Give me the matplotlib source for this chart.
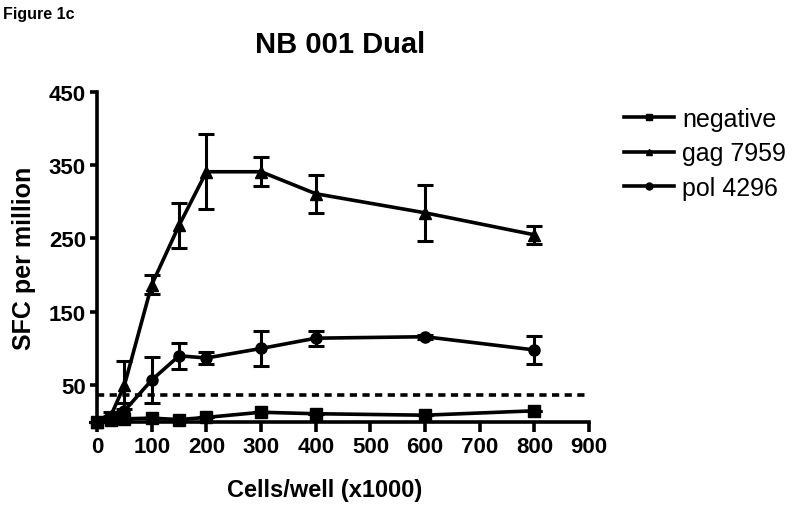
import matplotlib.pyplot as plt
from matplotlib.lines import Line2D

plt.rcParams['font.family'] = ['Liberation Sans', 'DejaVu Sans']
plt.rcParams['font.weight'] = 'bold'

cells = [0, 25, 50, 100, 150, 200, 300, 400, 600, 800]

neg = [0, 2, 4, 5, 3, 6, 13, 11, 9, 15]
neg_err = [0, 0, 0, 0, 0, 0, 0, 0, 0, 0]

gag = [0, 8, 50, 187, 268, 341, 341, 311, 285, 255]
gag_err = [0, 5, 33, 13, 31, 51, 20, 26, 38, 12]

pol = [0, 5, 15, 57, 90, 87, 100, 114, 116, 98]
pol_err = [0, 3, 10, 31, 18, 8, 24, 10, 3, 19]

cutoff = 37

names = ['negative', 'gag 7959', 'pol 4296']
markers = ['s', '^', 'o']

fig = plt.figure(figsize=(7.96, 5.10), dpi=100)
ax = fig.add_axes([0.122, 0.171, 0.618, 0.647])

kw = dict(color='black', lw=2.6, capsize=5.5, capthick=2.2, elinewidth=2.2, clip_on=False)
ax.errorbar(cells, neg, yerr=neg_err, marker='s', ms=8, **kw)
ax.errorbar(cells, gag, yerr=gag_err, marker='^', ms=9, **kw)
ax.errorbar(cells, pol, yerr=pol_err, marker='o', ms=8, **kw)
ax.plot([0, 900], [cutoff, cutoff], color='black', lw=2.6, ls=(0, (2, 1.5)), clip_on=False)

ax.set_xlim(0, 900)
ax.set_ylim(0, 450)
ax.set_xticks(range(0, 901, 100))
ax.set_yticks([50, 150, 250, 350, 450])
ax.spines['top'].set_visible(False)
ax.spines['right'].set_visible(False)
ax.spines['left'].set_linewidth(2.6)
ax.spines['bottom'].set_linewidth(2.6)
ax.tick_params(axis='both', width=2.6, labelsize=16)
ax.tick_params(axis='x', length=7, pad=3)
ax.tick_params(axis='y', length=5, pad=3)
for lab in ax.get_xticklabels() + ax.get_yticklabels():
    lab.set_fontweight('bold')

fig.text(0.408, 0.039, 'Cells/well (x1000)', fontsize=17, fontweight='bold',
         ha='center', va='center')
fig.text(0.03, 0.494, 'SFC per million', fontsize=18, fontweight='bold',
         ha='center', va='center', rotation=90)
fig.text(0.427, 0.912, 'NB 001 Dual', fontsize=21, fontweight='bold',
         ha='center', va='center')
fig.text(0.004, 0.962, 'Figure 1c', fontsize=11.5, fontweight='bold')

handles = [Line2D([], [], color='black', lw=2.6, marker=m, ms=5) for m in markers]
leg = ax.legend(handles, names, loc='upper left', bbox_to_anchor=(1.05, 0.985),
                frameon=False, fontsize=18, handlelength=2.0, handletextpad=0.35,
                labelspacing=0.42, borderaxespad=0)
for t in leg.get_texts():
    t.set_fontweight('normal')

fig.savefig('out.png', dpi=100)
